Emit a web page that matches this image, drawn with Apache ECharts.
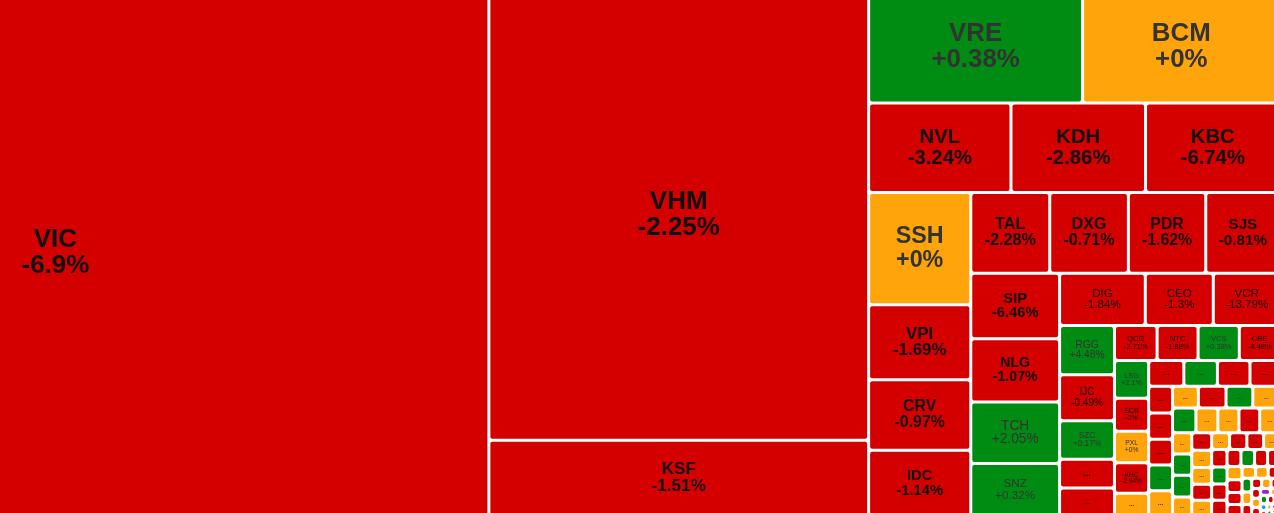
<!DOCTYPE html>
<html>
<head>
<meta charset="utf-8">
<script src="https://cdn.jsdelivr.net/npm/echarts@6/dist/echarts.min.js"></script>
<style>
html, body { margin: 0; padding: 0; overflow: hidden; background: #fff; }
/* the map is wider than the window, VIC is partly off screen on the left */
#heatmap { position: absolute; left: -378px; top: -10px; width: 1658px; height: 526px; }
</style>
</head>
<body>
<div id="heatmap"></div>
<script>
const tickers = [
    'VIC', 'VHM', 'KSF', 'VRE', 'BCM', 'NVL', 'KDH', 'KBC',
    'SSH', 'VPI', 'CRV', 'IDC', 'TAL', 'DXG', 'PDR', 'SJS',
    'SIP', 'NLG', 'TCH', 'SNZ', 'DIG', 'CEO', 'VCR',
    'RGG', 'IJC', 'SZC', 'HDC', 'DXS', 'QCG', 'NTC', 'VCS', 'CRE',
    'LSG', 'SCR', 'PXL', 'KHC', 'HQC', 'ITA', 'NBB', 'AGG', 'LHG',
    'D2D', 'NTL', 'KOS', 'IDV', 'TIP', 'DTD', 'HPX', 'SZL', 'HTN', 'CKG',
    'DRH', 'LDG', 'TDC', 'TIG', 'API', 'IDJ', 'NDN', 'PVL', 'HAR',
    'VRC', 'DPG', 'FIR', 'BII', 'HLD', 'TDH', 'OGC', 'NVT', 'DTA', 'PTL',
    'VC3', 'CIG', 'LEC', 'NHA', 'SGR', 'HU1', 'PPI', 'VPH', 'CCL', 'SHN', 'DXV', 'TN1',
    'HD6', 'KHG', 'PV2', 'C21', 'VNI', 'NVB', 'BCR', 'HPI',
    'LGL', 'SDU', 'HLR', 'ICG', 'PWA', 'TKG', 'HD2', 'PFL',
    'BVL', 'NDX', 'VIH', 'HD8', 'TLD', 'SDA', 'LCS', 'ATG'
];

// market weight of each stock (tile area)
const weights = [
    453900, 170200, 28650, 24075, 22220, 12674, 11980, 11970,
    11424, 7620, 7170, 6680, 6344, 6320, 6215, 5966,
    5800, 5588, 5437, 4640, 4463, 3540, 3473,
    2690, 2510, 2110, 1570, 1530, 1486, 1428, 1438, 1418,
    1281, 1122, 1078, 1035, 775, 897, 857, 830, 766,
    640, 620, 615, 610, 600, 560, 600, 580, 590, 575,
    540, 520, 510, 500, 410, 405, 415, 365, 350,
    340, 330, 320, 310, 300, 290, 280, 275, 270, 260,
    250, 240, 235, 230, 220, 210, 200, 190, 180, 170, 160, 150,
    140, 130, 120, 110, 100, 95, 90, 85,
    80, 75, 70, 65, 60, 55, 50, 45,
    35, 30, 28, 25, 22, 20, 18, 15
];

// price change, %
const changes = [
    -6.9, -2.25, -1.51, 0.38, 0, -3.24, -2.86, -6.74,
    0, -1.69, -0.97, -1.14, -2.28, -0.71, -1.62, -0.81,
    -6.46, -1.07, 2.05, 0.32, -1.84, -1.3, -13.79,
    4.48, -0.49, 0.17, -1.2, -0.9, -2.71, -1.88, 0.38, -4.48,
    2.1, -2, 0, -2.94, 0, -1.5, 1.2, -0.8, -1.1,
    -1.4, -0.9, -2.1, 1.3, 0, 0, -0.6, 0.8, 0, 2.4,
    0, 0, -1.7, 0, 0, 1.1, 0.5, 0, -3.2,
    0, 0, -0.4, 0, 0, -1.9, -0.7, 0, -2.6, 0.9,
    -1.1, -4.2, -0.5, 3.1, -2.2, -0.3, 0, -1.6, -2.9, -0.8, 0, 0,
    -1.0, 1.7, 0, -3.5, -0.6, 0, -2.4, -1.2,
    0, -0.9, 9.9, 0, 2.2, -1.8, 0, -9.8,
    -2.0, 0, 1.5, 14.9, -14.8, -0.7, 0, 3.3
];

const ceilingCodes = ['HLR', 'HD8'];
const floorCodes = ['PFL', 'TLD'];

// how many stocks sit in each strip, the rest share the last block
const stripSizes = [1, 2, 2, 3, 4, 4, 4, 3, 5, 4, 5, 4];

const RED = '#d40000';
const GREEN = '#008c12';
const YELLOW = '#ffa40a';
const PURPLE = '#a21fc4';
const BLUE = '#1e9be0';

const chart = echarts.init(document.getElementById('heatmap'));
let boxes = null;

function tileColor(i) {
    if (ceilingCodes.includes(tickers[i])) return PURPLE;
    if (floorCodes.includes(tickers[i])) return BLUE;
    if (changes[i] > 0) return GREEN;
    if (changes[i] < 0) return RED;
    return YELLOW;
}

function pctText(v) {
    return (v >= 0 ? '+' : '') + v + '%';
}

// rough width of a line in em (bold sans)
function emWidth(s) {
    let w = 0;
    for (const ch of s) {
        if (ch === '.') w += 0.28;
        else if (ch === '-') w += 0.34;
        else if (ch === '%') w += 0.89;
        else if (ch === '+') w += 0.58;
        else if (ch >= '0' && ch <= '9') w += 0.556;
        else w += 0.72;
    }
    return w;
}

function tileLabel(i) {
    const color = changes[i] < 0 ? '#111' : '#333';
    const b = boxes && boxes[tickers[i]];
    if (!b) return { color: color };
    const side = Math.min(b.width, b.height) - 3;
    if (side < 12) return { show: false };
    if (side < 26) {
        const fs = Math.max(6, side * 0.32);
        return { formatter: '...', fontSize: fs, lineHeight: fs, fontWeight: 'bold', color: color };
    }
    const longest = Math.max(emWidth(tickers[i]), emWidth(pctText(changes[i])));
    const fs = Math.min(26, side * 0.235, (b.width - 3) * 0.68 / longest);
    return {
        fontSize: fs,
        lineHeight: fs,
        fontWeight: side >= 59.3 ? 'bold' : 'normal',
        color: color
    };
}

function leaf(i) {
    return {
        name: tickers[i],
        value: weights[i],
        change: changes[i],
        itemStyle: { color: tileColor(i), borderColor: '#fff', borderWidth: 1.5, borderRadius: 2 },
        label: tileLabel(i)
    };
}

function leaves(from, to) {
    const out = [];
    for (let i = from; i < to; i++) out.push(leaf(i));
    return out;
}

function buildLevel(k, start) {
    if (k >= stripSizes.length) return leaves(start, tickers.length);
    const n = stripSizes[k];
    const strip = n === 1 ? leaf(start) : { name: 's' + k, children: leaves(start, start + n) };
    return [strip, { name: 'r' + k, children: buildLevel(k + 1, start + n) }];
}

chart.setOption({
    animation: false,
    series: [
        {
            type: 'treemap',
            left: 0,
            top: 0,
            width: '100%',
            height: '100%',
            roam: false,
            nodeClick: false,
            sort: false,
            visibleMin: 0,
            squareRatio: 1,
            breadcrumb: { show: false },
            itemStyle: { borderWidth: 0, gapWidth: 0, borderColor: '#fff' },
            upperLabel: { show: false },
            label: {
                show: true,
                position: 'inside',
                padding: 0,
                overflow: 'none',
                fontFamily: '"Liberation Sans", Arial, sans-serif',
                fontSize: 12,
                formatter: p => p.name + '\n' + pctText(p.data.change)
            },
            data: buildLevel(0, 0)
        }
    ]
});

// second pass: size the labels from the tiles the layout produced
try {
    const list = chart.getModel().getSeriesByIndex(0).getData();
    boxes = {};
    list.each(idx => {
        boxes[list.getName(idx)] = list.getItemLayout(idx);
    });
    chart.setOption({ series: [{ data: buildLevel(0, 0) }] });
} catch (e) {
    console.log(e);
}
</script>
</body>
</html>
